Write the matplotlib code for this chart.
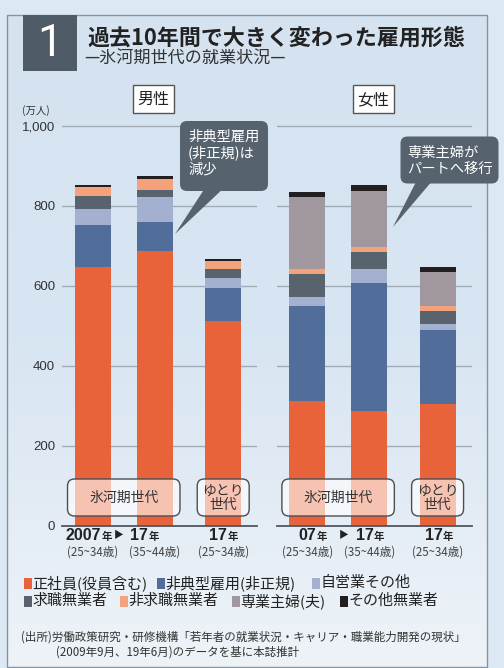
import numpy as np
import matplotlib.pyplot as plt
from matplotlib.patches import Rectangle, FancyBboxPatch, Polygon
from matplotlib.colors import LinearSegmentedColormap

plt.rcParams['font.family'] = ['Noto Sans CJK JP', 'DejaVu Sans']
NUM_FONT = ['Liberation Sans', 'DejaVu Sans']

# ---------------------------------------------------------------- data
categories = ['正社員(役員含む)', '非典型雇用(非正規)', '自営業その他',
              '求職無業者', '非求職無業者', '専業主婦(夫)', 'その他無業者']
colors = ['#e8633a', '#516d99', '#a3b0cf', '#58636d', '#f4a27b', '#a1989f', '#231f20']

male_years = ['2007', '17', '17']
female_years = ['07', '17', '17']
age_labels = ['(25~34歳)', '(35~44歳)', '(25~34歳)']
generation_labels = ['氷河期世代', 'ゆとり\n世代']

# 万人, bars: 07(25-34), 17(35-44), 17(25-34)
male_seishain = [647, 687, 512]
male_hitenkei = [105, 72, 83]
male_jieigyo = [39, 62, 24]
male_kyushoku = [33, 18, 22]
male_hikyushoku = [23, 28, 21]
male_sengyo = [0, 0, 0]
male_other = [5, 8, 5]

female_seishain = [312, 287, 304]
female_hitenkei = [237, 319, 185]
female_jieigyo = [23, 35, 15]
female_kyushoku = [57, 44, 34]
female_hikyushoku = [14, 12, 11]
female_sengyo = [178, 141, 86]
female_other = [13, 13, 12]

male_data = [male_seishain, male_hitenkei, male_jieigyo, male_kyushoku,
             male_hikyushoku, male_sengyo, male_other]
female_data = [female_seishain, female_hitenkei, female_jieigyo, female_kyushoku,
               female_hikyushoku, female_sengyo, female_other]

# ---------------------------------------------------------------- layout
W, H = 504, 668
UNIT = 62.0          # px per bar slot
BASE_Y = 525.7       # px of y=0
PX_PER_Y = 0.4       # px per 万人
positions = np.array([0, 1, 2.1])
bar_w = 0.58

fig = plt.figure(figsize=(W / 100, H / 100), dpi=100)
fig.patch.set_facecolor('#dce8f3')

bg = fig.add_axes([0, 0, 1, 1], zorder=0)
grad = np.linspace(0, 1, 256)[:, None]
cmap = LinearSegmentedColormap.from_list('bg', ['#d5e3f0', '#d8e5f2', '#eef3f8'])
bg.imshow(grad, extent=(7, 487, 667, 15), cmap=cmap, aspect='auto', zorder=0)
bg.set_xlim(0, W)
bg.set_ylim(H, 0)
bg.axis('off')
bg.add_patch(Rectangle((7, 15), 480, 652, fill=False, ec='#8693a0', lw=1.0, zorder=1))

# title
bg.add_patch(Rectangle((22.5, 15), 54.5, 56, fc='#4f5b66', ec='none', zorder=2))
bg.text(49.5, 44, '1', color='white', fontsize=32, ha='center', va='center', zorder=3,
        family=['Roboto', 'DejaVu Sans'])
bg.text(87, 38, '過去10年間で大きく変わった雇用形態', fontsize=15.8, fontweight='bold',
        color='#222222', ha='left', va='center')
bg.text(84, 59, '—氷河期世代の就業状況—', fontsize=12.3, color='#333333',
        ha='left', va='center')

# sex headers
for cx, s in [(153.5, '男性'), (373.5, '女性')]:
    bg.add_patch(Rectangle((cx - 20.5, 85), 41, 28, fc='white', ec='#555555', lw=1.0))
    bg.text(cx, 99.5, s, fontsize=11.5, color='#222222', ha='center', va='center')

bg.text(22, 111, '(万人)', fontsize=7.5, color='#333333', ha='left', va='center')


def make_axes(left, xmin, show_ticks):
    ax = fig.add_axes([left / W, 1 - BASE_Y / H, 195 / W, 1100 * PX_PER_Y / H], zorder=1)
    ax.set_xlim(xmin, xmin + 195 / UNIT)
    ax.set_ylim(0, 1100)
    ax.patch.set_alpha(0)
    for s in ['top', 'right', 'left']:
        ax.spines[s].set_visible(False)
    ax.spines['bottom'].set_color('#50575e')
    ax.spines['bottom'].set_linewidth(1.3)
    ax.set_yticks([0, 200, 400, 600, 800, 1000])
    ax.set_yticklabels(['0', '200', '400', '600', '800', '1,000'] if show_ticks else [],
                       family=NUM_FONT)
    ax.tick_params(axis='y', length=0, pad=5, labelsize=9.5, labelcolor='#333333')
    ax.set_xticks([])
    ax.grid(axis='y', color='#a3adb6', lw=1.0)
    ax.set_axisbelow(True)
    return ax


def draw_stack(ax, data):
    bottom = np.zeros(len(positions))
    for vals, c in zip(data, colors):
        ax.bar(positions, vals, bar_w, bottom=bottom, color=c, edgecolor='none', zorder=2)
        bottom += np.array(vals)


panels = [
    (62, -0.5, male_data, male_years, [8, -7, 4], -5),
    (277, -0.49, female_data, female_years, [9, 4, 5], 5),
]

ov = fig.add_axes([0, 0, 1, 1], zorder=3)
ov.set_xlim(0, W)
ov.set_ylim(H, 0)
ov.axis('off')

for i, (left, xmin, data, years, dx, arrow_dx) in enumerate(panels):
    ax = make_axes(left, xmin, i == 0)
    draw_stack(ax, data)

    def px(p):
        return left + (p - xmin) * UNIT

    half = bar_w / 2 * UNIT
    # generation boxes
    spans = [(px(positions[0]) - half - 7.5, px(positions[1]) + half + 7),
             (px(positions[2]) - half - 8, px(positions[2]) + half + 8)]
    for (x0, x1), lab in zip(spans, generation_labels):
        ov.add_patch(FancyBboxPatch((x0 + 5, 484), x1 - x0 - 10, 27,
                                    boxstyle='round,pad=5,rounding_size=7',
                                    fc='white', alpha=0.62, ec='none'))
        ov.add_patch(FancyBboxPatch((x0 + 5, 484), x1 - x0 - 10, 27,
                                    boxstyle='round,pad=5,rounding_size=7',
                                    fc='none', ec='#4a4f55', lw=1.0))
        ov.text((x0 + x1) / 2, 498, lab, fontsize=10, color='#333333',
                ha='center', va='center', linespacing=1.0)

    # year / age labels
    for p, y, d, a in zip(positions, years, dx, age_labels):
        cx = px(p)
        bg.text(cx + d, 540, y, fontsize=11.5, fontweight='bold', color='#222222',
                ha='right', va='baseline', family=NUM_FONT)
        bg.text(cx + d + 0.5, 540, '年', fontsize=7.5, fontweight='bold', color='#222222',
                ha='left', va='baseline')
        bg.text(cx, 552, a, fontsize=8.3, color='#444444', ha='center', va='center')
    mid = (px(positions[0]) + px(positions[1])) / 2 + arrow_dx
    bg.text(mid, 535, '▶', fontsize=7, color='#222222', ha='center', va='center')

# callouts
call_c = '#56626d'
ov.add_patch(FancyBboxPatch((185, 126), 78, 60, boxstyle='round,pad=5,rounding_size=7',
                            fc=call_c, ec='none'))
ov.add_patch(Polygon([(207, 185), (227, 185), (175, 234)], closed=True, fc=call_c, ec='none'))
ov.text(188, 153, '非典型雇用\n(非正規)は\n減少', fontsize=10.3, color='white',
        ha='left', va='center', linespacing=1.15)

ov.add_patch(FancyBboxPatch((405.5, 141.5), 88, 37, boxstyle='round,pad=5,rounding_size=7',
                            fc=call_c, ec='none'))
ov.add_patch(Polygon([(417, 180), (433, 180), (393, 227)], closed=True, fc=call_c, ec='none'))
ov.text(407, 161, '専業主婦が\nパートへ移行', fontsize=10.3, color='white',
        ha='left', va='center', linespacing=1.15)

# legend
legend_pos = [(24, 583), (157, 583), (312, 583), (24, 601), (120, 601), (232, 601), (340, 601)]
for (lx, ly), lab, c in zip(legend_pos, categories, colors):
    bg.add_patch(Rectangle((lx, ly - 5.5), 8, 11, fc=c, ec='none'))
    bg.text(lx + 8.5, ly, lab, fontsize=10.8, color='#222222', ha='left', va='center')

# source
bg.text(21, 637, '(出所)労働政策研究・研修機構「若年者の就業状況・キャリア・職業能力開発の現状」',
        fontsize=8.3, color='#333333', ha='left', va='center')
bg.text(56, 652, '(2009年9月、19年6月)のデータを基に本誌推計',
        fontsize=8.3, color='#333333', ha='left', va='center')

fig.savefig('out.png', dpi=100, facecolor=fig.get_facecolor())
